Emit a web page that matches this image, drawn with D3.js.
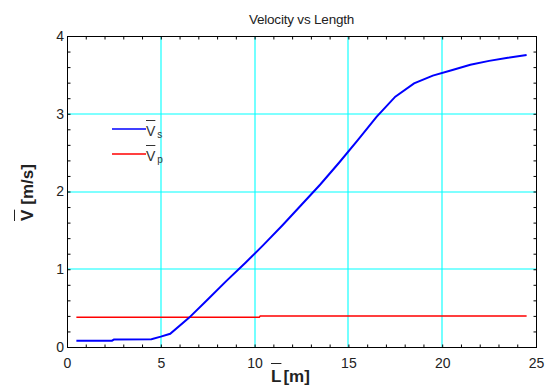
<!DOCTYPE html>
<html>
<head>
<meta charset="utf-8">
<script src="https://cdn.jsdelivr.net/npm/d3@7"></script>
<style>
  html, body { margin: 0; padding: 0; background: #fff; }
  svg { display: block; font-family: "Liberation Sans", Arial, sans-serif; }
</style>
</head>
<body>
<svg id="chart" width="547" height="387"></svg>
<script>
// Mean velocity against length for the two velocity components
const lengthS = [0.5, 2.4, 2.5, 4.5, 5.0, 5.5, 6.5, 7.5, 8.5, 9.5, 10.5, 11.5, 12.5,
                 13.5, 14.5, 15.5, 16.5, 17.5, 18.5, 19.5, 20.5, 21.5, 22.5, 23.5, 24.5];
const velocityS = [0.082, 0.082, 0.095, 0.10, 0.133, 0.17, 0.375, 0.61, 0.85, 1.08, 1.32, 1.57, 1.83,
                   2.09, 2.37, 2.66, 2.96, 3.22, 3.39, 3.49, 3.56, 3.63, 3.68, 3.72, 3.755];
const lengthP = [0.5, 10.25, 10.3, 24.5];
const velocityP = [0.382, 0.382, 0.40, 0.40];

const xTicks = [0, 5, 10, 15, 20, 25];
const yTicks = [0, 1, 2, 3, 4];
const xMinor = d3.range(0, 25.01, 1);
const yMinor = d3.range(0, 4.001, 0.2);

const svg = d3.select("#chart");
const plotL = 67, plotR = 536, plotT = 36, plotB = 347;
const x = d3.scaleLinear().domain([0, 25]).range([plotL, plotR]);
const y = d3.scaleLinear().domain([0, 4]).range([plotB, plotT]);

// grid (thin cyan lines on the major ticks)
const grid = svg.append("g").attr("stroke", "#00ffff").attr("stroke-width", 1.1);
grid.selectAll("line.gx").data(xTicks.slice(1, -1)).join("line")
  .attr("x1", d => Math.round(x(d))).attr("x2", d => Math.round(x(d)))
  .attr("y1", plotT).attr("y2", plotB);
grid.selectAll("line.gy").data(yTicks.slice(1, -1)).join("line")
  .attr("y1", d => Math.round(y(d))).attr("y2", d => Math.round(y(d)))
  .attr("x1", plotL).attr("x2", plotR);

// inward ticks on all four sides
const tickLen = 3;
const fmt = () => "";
const noDomain = g => g.select(".domain").remove();
svg.append("g").attr("transform", `translate(0,${plotB + 0.5})`)
  .call(d3.axisTop(x).tickValues(xMinor).tickSize(tickLen).tickFormat(fmt)).call(noDomain);
svg.append("g").attr("transform", `translate(0,${plotT + 0.5})`)
  .call(d3.axisBottom(x).tickValues(xMinor).tickSize(tickLen).tickFormat(fmt)).call(noDomain);
svg.append("g").attr("transform", `translate(${plotL + 0.5},0)`)
  .call(d3.axisRight(y).tickValues(yMinor).tickSize(tickLen).tickFormat(fmt)).call(noDomain);
svg.append("g").attr("transform", `translate(${plotR + 0.5},0)`)
  .call(d3.axisLeft(y).tickValues(yMinor).tickSize(tickLen).tickFormat(fmt)).call(noDomain);

// tick labels
svg.append("g").attr("transform", `translate(0,${plotB})`)
  .call(d3.axisBottom(x).tickValues(xTicks).tickSize(0).tickPadding(11).tickFormat(d3.format("d")))
  .call(noDomain)
  .call(g => g.selectAll("text").attr("font-size", 14).attr("fill", "#222")
    .attr("font-family", "Liberation Sans, Arial, sans-serif"));
svg.append("g").attr("transform", `translate(${plotL},0)`)
  .call(d3.axisLeft(y).tickValues(yTicks).tickSize(0).tickPadding(3).tickFormat(d3.format("d")))
  .call(noDomain)
  .call(g => g.selectAll("text").attr("font-size", 14).attr("fill", "#222")
    .attr("font-family", "Liberation Sans, Arial, sans-serif"));

// series
const line = d3.line().x(d => x(d[0])).y(d => y(d[1]));
svg.append("path").datum(d3.zip(lengthP, velocityP))
  .attr("d", line).attr("fill", "none").attr("stroke", "#ff0000").attr("stroke-width", 1.5);
svg.append("path").datum(d3.zip(lengthS, velocityS))
  .attr("d", line).attr("fill", "none").attr("stroke", "#0000ff").attr("stroke-width", 2);

// frame
svg.append("rect").attr("x", plotL + 0.5).attr("y", plotT + 0.5)
  .attr("width", plotR - plotL).attr("height", plotB - plotT)
  .attr("fill", "none").attr("stroke", "#000").attr("stroke-width", 1);

// title
svg.append("text").attr("x", (plotL + plotR) / 2).attr("y", 24)
  .attr("text-anchor", "middle").attr("font-size", 13.5).attr("fill", "#222")
  .attr("letter-spacing", -0.2)
  .text("Velocity vs Length");

// x axis label: L with overline, [m]
const xl = svg.append("g").attr("font-weight", "bold").attr("font-size", 17).attr("fill", "#222");
const lX = 271;
const lT = xl.append("text").attr("x", lX).attr("y", 382).text("L");
const lW = lT.node().getComputedTextLength();
xl.append("text").attr("x", lX + lW + 2).attr("y", 382).text("[m]");
xl.append("line").attr("x1", lX).attr("x2", lX + lW).attr("y1", 363.5).attr("y2", 363.5)
  .attr("stroke", "#222").attr("stroke-width", 1);

// y axis label: V with overline, [m/s]
const yl = svg.append("g").attr("transform", "translate(33,221) rotate(-90)")
  .attr("font-weight", "bold").attr("font-size", 17).attr("fill", "#222");
const vT = yl.append("text").attr("x", 0).attr("y", 0).text("V");
const vW = vT.node().getComputedTextLength();
yl.append("text").attr("x", vW + 5).attr("y", 0).text("[m/s]");
yl.append("line").attr("x1", 0).attr("x2", vW).attr("y1", -18.5).attr("y2", -18.5)
  .attr("stroke", "#222").attr("stroke-width", 1);

// legend
const legend = [
  { label: "V", sub: "s", color: "#0000ff", yPos: 129 },
  { label: "V", sub: "p", color: "#ff0000", yPos: 154 }
];
const lg = svg.append("g");
legend.forEach(it => {
  lg.append("line").attr("x1", 112).attr("x2", 146).attr("y1", it.yPos).attr("y2", it.yPos)
    .attr("stroke", it.color).attr("stroke-width", 1.6);
  const t = lg.append("text").attr("x", 146).attr("y", it.yPos + 6.5)
    .attr("font-size", 14).attr("fill", "#333").text(it.label);
  const w = t.node().getComputedTextLength();
  lg.append("text").attr("x", 148 + w).attr("y", it.yPos + 8.5)
    .attr("font-size", 10).attr("fill", "#333").text(it.sub);
  lg.append("line").attr("x1", 146).attr("x2", 146 + w).attr("y1", it.yPos - 8.5).attr("y2", it.yPos - 8.5)
    .attr("stroke", "#333").attr("stroke-width", 1);
});
</script>
</body>
</html>
